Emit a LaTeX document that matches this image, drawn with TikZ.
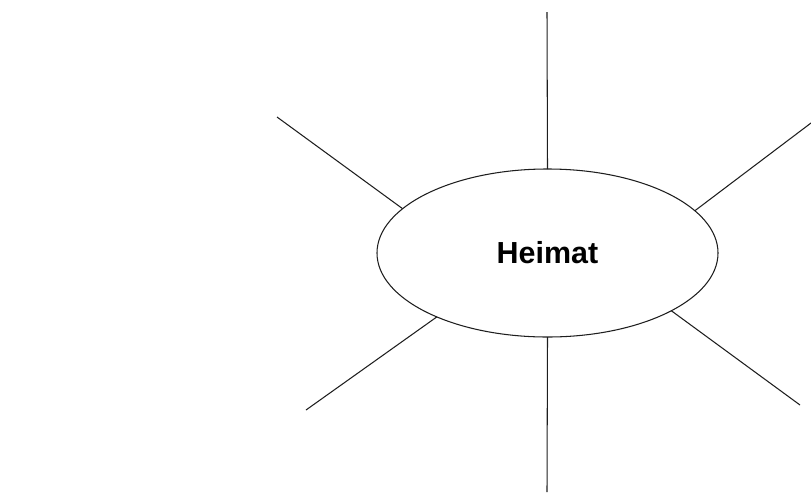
\documentclass[tikz,border=0pt]{standalone}
\usepackage{fontspec}
\setmainfont{Liberation Sans}
\usetikzlibrary{shapes.geometric, positioning}
\definecolor{mydark}{RGB}{30,30,30}
\tikzset{
  hub/.style={ellipse, draw=mydark, fill=white, line width=0.9pt,
    minimum width=10.23cm, minimum height=5.04cm, inner sep=0pt, outer sep=0pt,
    font=\fontsize{26}{30}\selectfont\bfseries},
  ray/.style={line width=0.9pt, color=mydark}
}
\begin{document}
\begin{tikzpicture}[x=0.03cm, y=-0.03cm]
  \useasboundingbox (0,0) rectangle (811,496);

  % Centre
  \node[hub] (heimat) at (547.5,253) {Heimat};

  % Free ends
  \coordinate (top) at (547,12);
  \coordinate (bottom) at (547,492);
  \coordinate (upleft) at (277,117);
  \coordinate (upright) at (811,123);
  \coordinate (lowleft) at (306,410);
  \coordinate (lowright) at (800,405);

  % Rays
  \draw[ray] (heimat.90) -- (top);
  \draw[ray] (heimat.270) -- (bottom);
  \draw[ray] (heimat.163.2) -- (upleft);
  \draw[ray] (heimat.16.8) -- (upright);
  \draw[ray] (heimat.210.2) -- (lowleft);
  \draw[ray] (heimat.335.4) -- (lowright);
\end{tikzpicture}
\end{document}
